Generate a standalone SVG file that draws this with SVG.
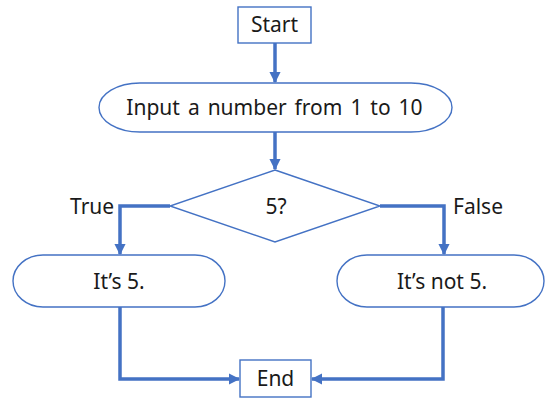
<svg xmlns="http://www.w3.org/2000/svg" width="549" height="398" viewBox="0 0 549 398">
  <defs>
    <marker id="arrow" viewBox="0 0 10 10" refX="9" refY="5" markerWidth="3.2" markerHeight="3.2" orient="auto" markerUnits="strokeWidth">
      <path d="M0,0 L10,5 L0,10 Z" fill="#4472C4"/>
    </marker>
    <style>
      .shape { fill: #ffffff; stroke: #4472C4; stroke-width: 1.4; }
      .label { font-family: "Noto Sans", "Open Sans", sans-serif; font-size: 21px; fill: #1a1a1a; text-anchor: middle; }
      .side { font-family: "Noto Sans", "Open Sans", sans-serif; font-size: 21px; fill: #1a1a1a; }
      .link { fill: none; stroke: #4472C4; stroke-width: 3.5; marker-end: url(#arrow); }
    </style>
  </defs>
  <rect width="549" height="398" fill="#ffffff"/>

  <g id="connectors">
    <path class="link" d="M275,43 L275,82"/>
    <path class="link" d="M275,132 L275,169"/>
    <path class="link" d="M170,206 L120,206 L120,254"/>
    <path class="link" d="M380,206 L444,206 L444,254"/>
    <path class="link" d="M120,307 L120,379 L239,379"/>
    <path class="link" d="M443,307 L443,379 L312,379"/>
  </g>

  <g id="start">
    <rect class="shape" x="238" y="7" width="73" height="36"/>
    <text class="label" x="274.5" y="32">Start</text>
  </g>

  <g id="input">
    <path class="shape" d="M140,83 L411,83 A41,24.5 0 0 1 411,132 L140,132 A41,24.5 0 0 1 140,83 Z"/>
    <text class="label" x="274.5" y="115" word-spacing="2.5">Input a number from 1 to 10</text>
  </g>

  <g id="decision">
    <polygon class="shape" points="275,170 380,206 275,242 170,206"/>
    <text class="label" x="276" y="214">5?</text>
  </g>

  <g id="branch-labels">
    <text class="side" x="70" y="214">True</text>
    <text class="side" x="453" y="214">False</text>
  </g>

  <g id="is-five">
    <rect class="shape" x="13" y="255" width="212" height="52" rx="30" ry="26"/>
    <text class="label" x="119" y="289">It’s 5.</text>
  </g>

  <g id="not-five">
    <rect class="shape" x="337" y="255" width="207" height="52" rx="30" ry="26"/>
    <text class="label" x="442" y="289">It’s not 5.</text>
  </g>

  <g id="end">
    <rect class="shape" x="240" y="360" width="71" height="37"/>
    <text class="label" x="275.5" y="386">End</text>
  </g>
</svg>
